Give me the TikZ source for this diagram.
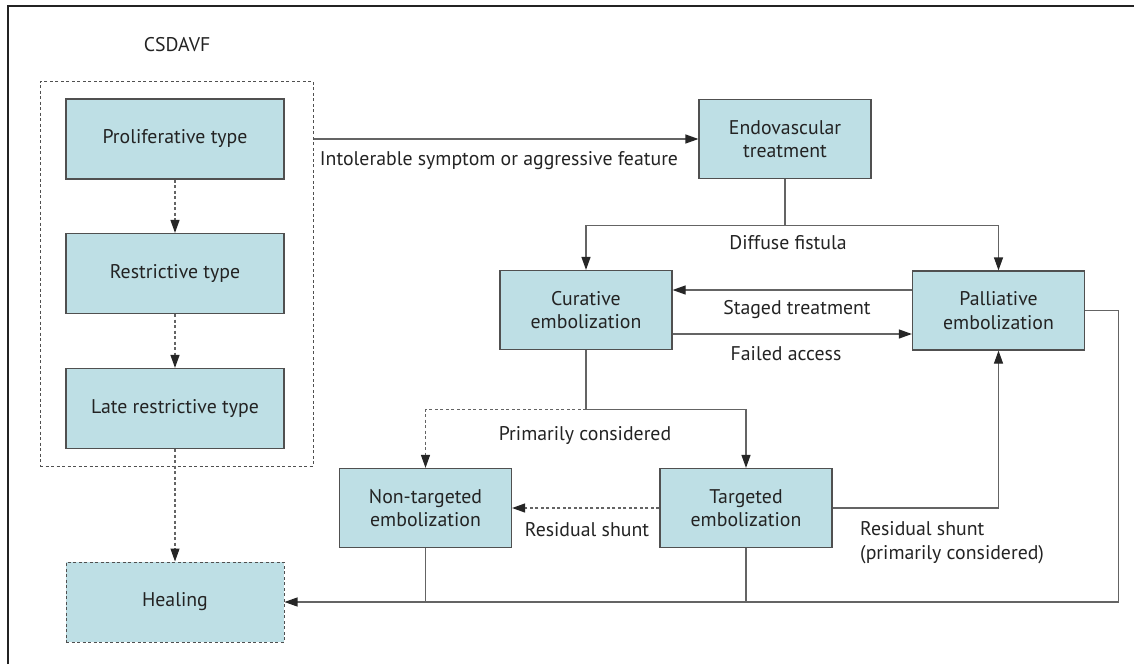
\documentclass[tikz,border=0pt]{standalone}
\usepackage{fontspec}
\setmainfont{PT Sans}
\usetikzlibrary{arrows.meta,calc}
\definecolor{boxfill}{RGB}{190,223,229}
\definecolor{boxline}{RGB}{80,80,80}
\definecolor{conn}{RGB}{100,100,100}
\definecolor{txt}{RGB}{35,35,35}
\definecolor{frame}{RGB}{35,35,35}
\begin{document}
\begin{tikzpicture}[x=1pt,y=-1pt,
  font=\fontsize{19.8}{23.5}\selectfont,
  box/.style={draw=boxline, line width=1.2pt, fill=boxfill, text=txt, minimum width=172pt, minimum height=79pt, inner sep=0pt, align=center},
  wbox/.style={box, minimum width=218pt, minimum height=80pt},
  con/.style={draw=conn, line width=1.2pt},
  arr/.style={con, -{Triangle[length=13pt,width=9pt,color=black!85]}},
  dsh/.style={dash pattern=on 3pt off 2.5pt},
  lbl/.style={inner sep=0pt, text=txt}
]
\useasboundingbox (0,0) rectangle (1134,664);
\draw[frame, line width=1.3pt] (8,664) -- (8,6) -- (1134,6);

\node[lbl] (title) at (177,45) {CSDAVF};
\node[draw=boxline, dsh, line width=1pt, minimum width=273pt, minimum height=385pt, inner sep=0pt] (grp) at (176.5,273.5) {};
\node[wbox] (prolif) at (175,139) {Proliferative type};
\node[wbox] (restr) at (175,273.5) {Restrictive type};
\node[wbox] (late) at (175,408.5) {Late restrictive type};
\node[wbox, dsh, line width=1pt] (heal) at (175,602) {Healing};

\node[box] (endo) at (785,139) {Endovascular\\treatment};
\node[box] (cur) at (586,310) {Curative\\embolization};
\node[box] (pal) at (998.5,310.5) {Palliative\\embolization};
\node[box] (nont) at (425.5,508) {Non-targeted\\embolization};
\node[box] (targ) at (746,508) {Targeted\\embolization};

% left column
\draw[arr,dsh] (prolif.south) -- (restr.north);
\draw[arr,dsh] (restr.south) -- (late.north);
\draw[arr,dsh] (late.south) -- (heal.north);

% to endovascular
\draw[arr] (grp.east |- endo.west) -- (endo.west);

% endovascular split
\coordinate (eB) at ($(endo.south)+(0,46)$);
\draw[con] (endo.south) -- (eB);
\draw[arr] (eB) -- (eB -| cur.north) -- (cur.north);
\draw[arr] (eB) -- (eB -| pal.north) -- (pal.north);

% staged / failed
\coordinate (s1) at ($(pal.west)+(0,-20.5)$);
\draw[arr] (s1) -- (s1 -| cur.east);
\coordinate (f1) at ($(cur.east)+(0,24)$);
\draw[arr] (f1) -- (f1 -| pal.west);

% curative split
\coordinate (cB) at ($(cur.south)+(0,59.5)$);
\draw[con] (cur.south) -- (cB);
\draw[arr] (cB) -- (cB -| targ.north) -- (targ.north);
\draw[arr,dsh] (cB) -- (cB -| nont.north) -- (nont.north);

% residual shunt
\draw[arr,dsh] (targ.west) -- (nont.east);
\draw[arr] (targ.east) -- (targ.east -| pal.south) -- (pal.south);

% to healing
\coordinate (rT) at ($(pal.east)+(33.5,0)$);
\coordinate (rB) at (rT |- heal.east);
\draw[arr] (pal.east) -- (rT) -- (rB) -- (heal.east);
\draw[con] (nont.south) -- (nont.south |- heal.east);
\draw[con] (targ.south) -- (targ.south |- heal.east);

% labels
\node[lbl] (l1) at (499,161) {Intolerable symptom or aggressive feature};
\node[lbl] (l2) at (788,243) {Diffuse fistula};
\node[lbl] (l3) at (797,310) {Staged treatment};
\node[lbl] (l4) at (786,354) {Failed access};
\node[lbl] (l5) at (585,436) {Primarily considered};
\node[lbl] (l6) at (587,530) {Residual shunt};
\node[lbl, align=left, anchor=west] (l7) at (860,542.5) {Residual shunt\\(primarily considered)};
\end{tikzpicture}
\end{document}
